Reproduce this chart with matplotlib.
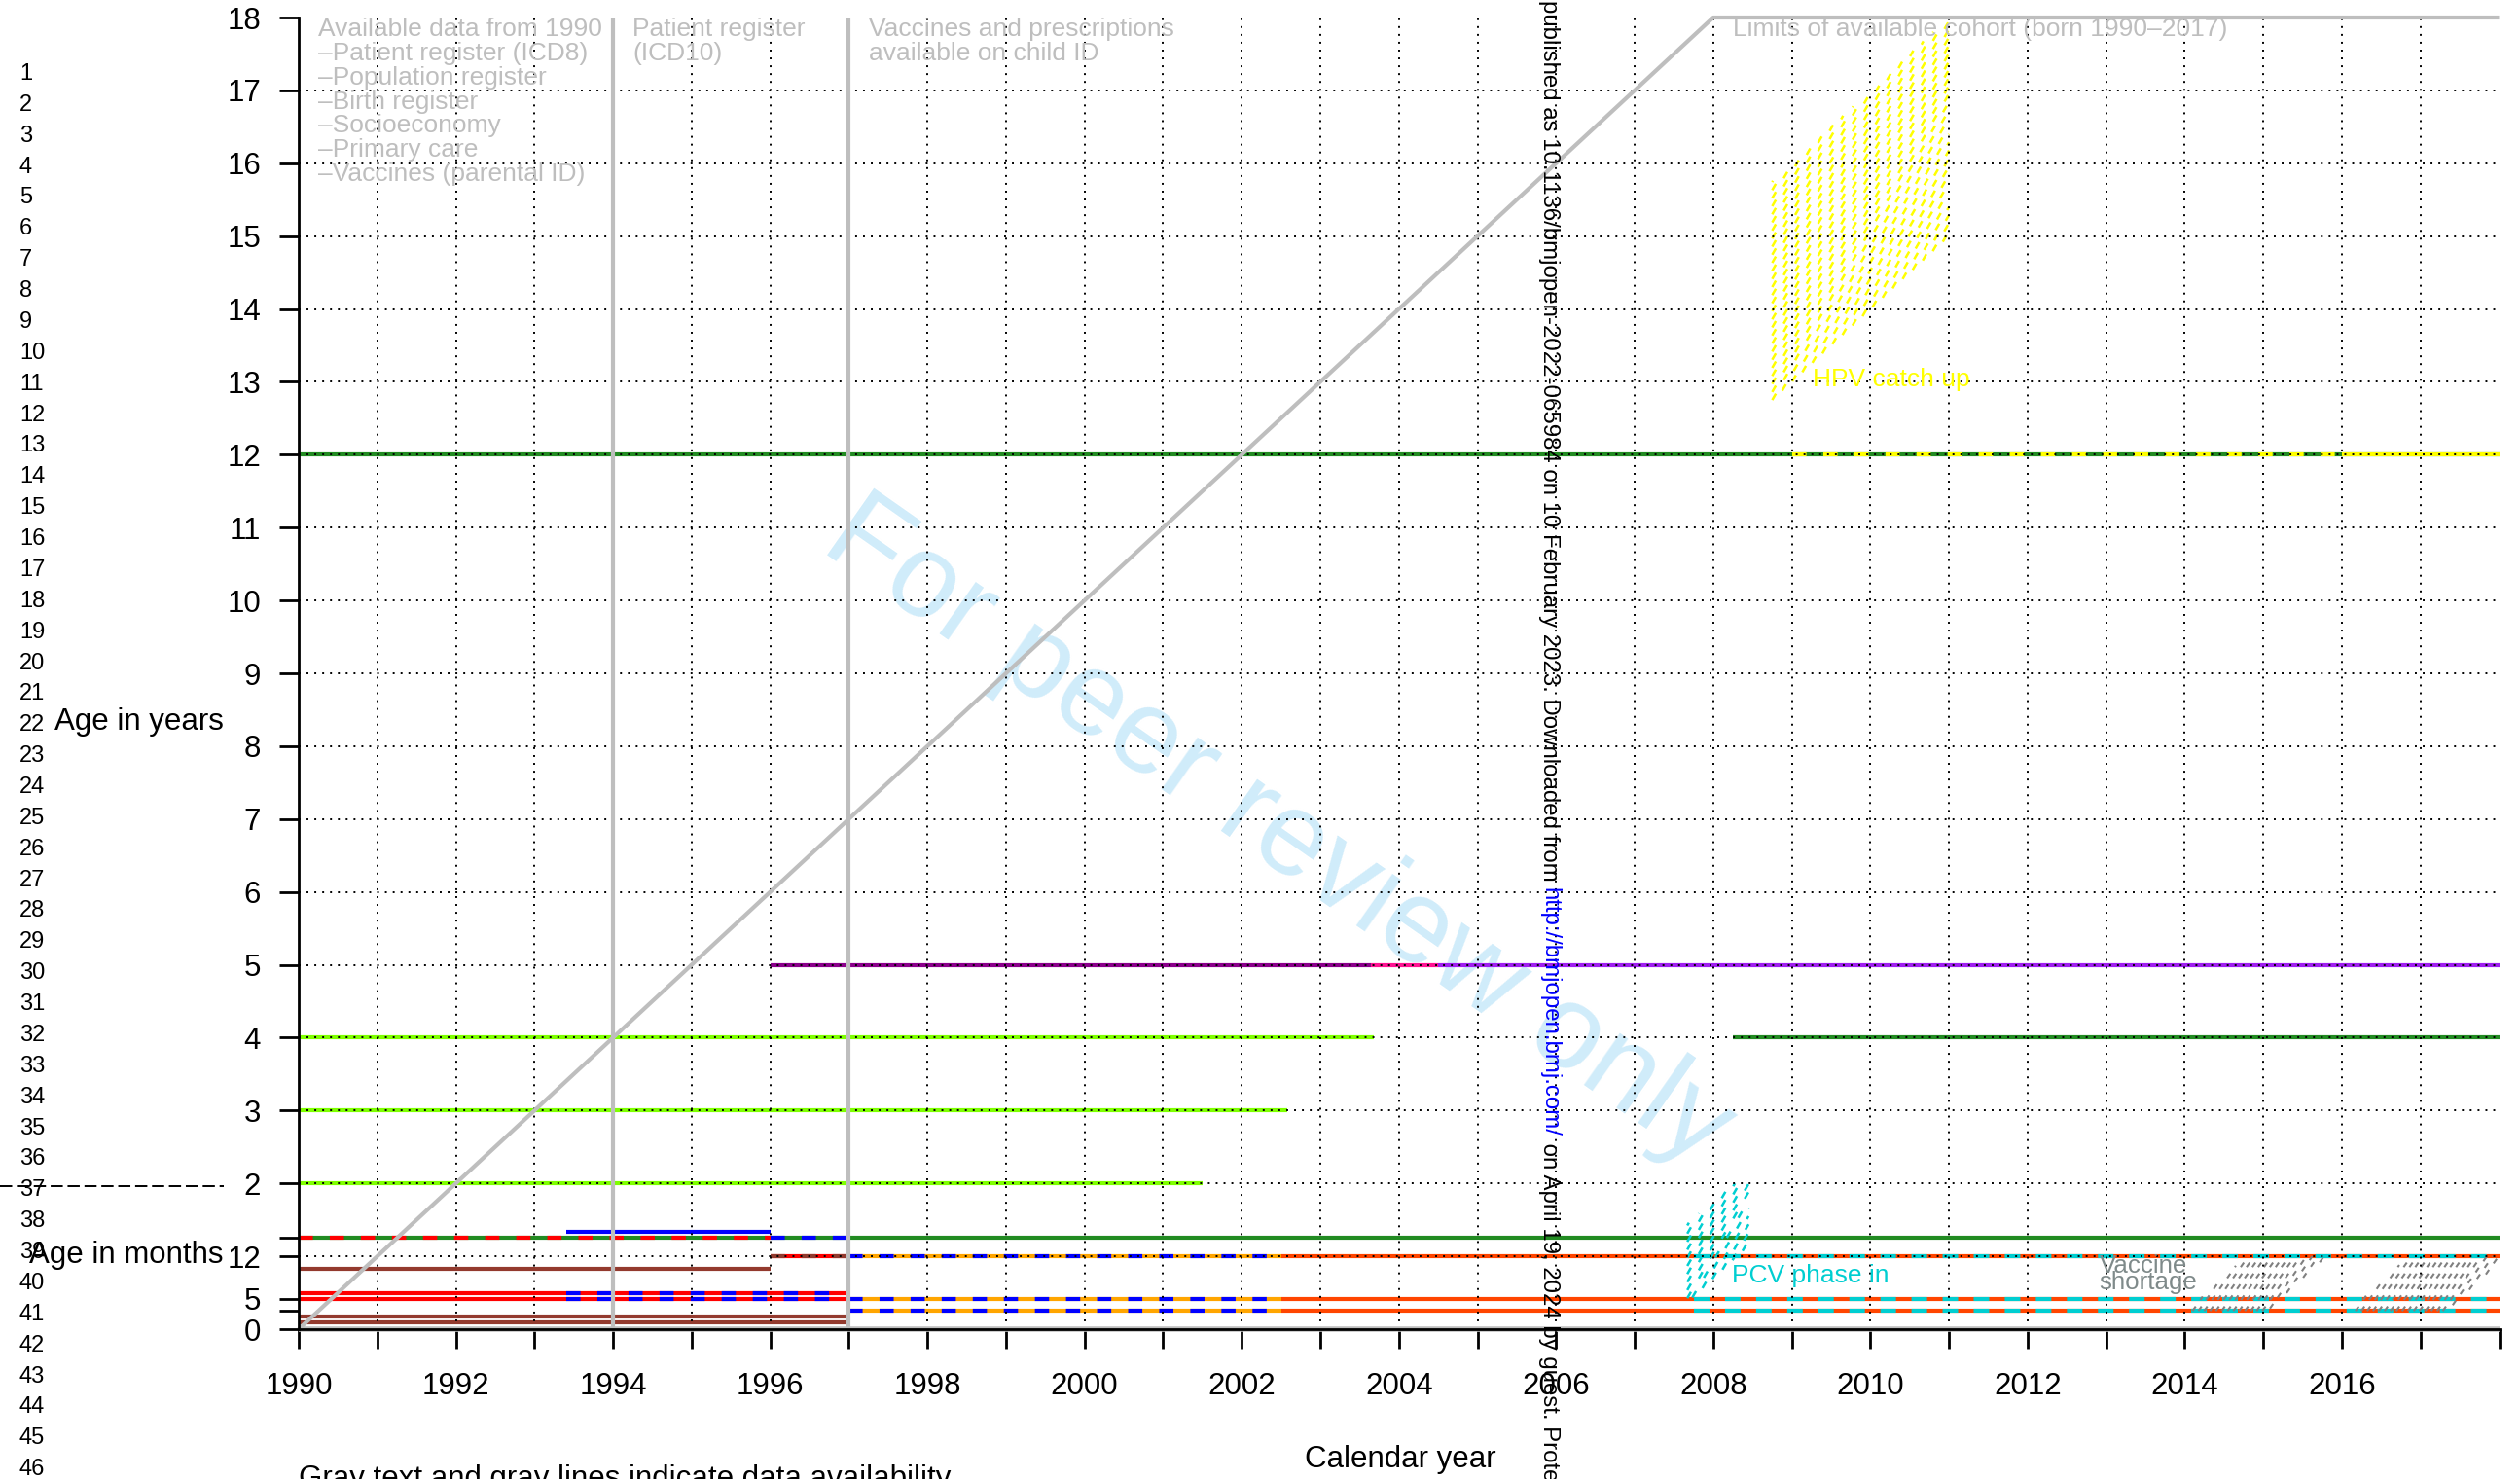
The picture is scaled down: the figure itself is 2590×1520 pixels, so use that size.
import numpy as np
import matplotlib
matplotlib.use('Agg')
import matplotlib.pyplot as plt
from matplotlib.lines import Line2D

plt.rcParams['font.family'] = ['Liberation Sans', 'DejaVu Sans']
plt.rcParams['lines.scale_dashes'] = False

W, H = 2590, 1520

# ---------------------------------------------------------------- data
tick_years = list(range(1990, 2019))
label_years = list(range(1990, 2017, 2))
grid_years = list(range(1991, 2018))
grid_ages = list(range(1, 18))
month_ticks = [0, 3, 5, 12, 15]
month_labels = ['0', '', '5', '12', '']
year_ticks = list(range(2, 19))
line_numbers = list(range(1, 47))

# solid schedule bars: age in months, first and last calendar year
brown_months = [1.15, 2.07, 10]
brown_start = [1990, 1990, 1990]
brown_end = [1997, 1997, 1996]

red_months = [5, 6, 12]
red_start = [1990, 1990, 1996]
red_end = [1997, 1997, 1997]

blue_months = [16]
blue_start = [1993.4]
blue_end = [1996]

green_months = [15, 48, 144]
green_start = [1990, 2008.25, 1990]
green_end = [2018, 2018, 2018]

chartreuse_months = [24, 36, 48]
chartreuse_start = [1990, 1990, 1990]
chartreuse_end = [2001.5, 2002.58, 2003.68]

orange_months = [3, 5, 12]
orange_start = [1997, 1997, 1997]
orange_end = [2002.5, 2002.5, 2002.5]

orangered_months = [3, 5, 12]
orangered_start = [2002.5, 2002.5, 2002.5]
orangered_end = [2018, 2018, 2018]

magenta_months = [60, 60, 60]
magenta_start = [1996, 2003.65, 2004.5]
magenta_end = [2003.65, 2004.5, 2018]

yellow_months = [144]
yellow_start = [2016]
yellow_end = [2018]

# dashed bars drawn on top of the solid ones
red_dash_months = [15]
red_dash_start = [1990]
red_dash_end = [1996]

blue_dash_months = [15, 5, 6, 3, 5, 12]
blue_dash_start = [1996, 1993.4, 1993.4, 1997, 1997, 1997]
blue_dash_end = [1997, 1997, 1997, 2002.5, 2002.5, 2002.5]

brown_dash_months = [12]
brown_dash_start = [1996]
brown_dash_end = [1997]

cyan_dash_months = [3, 5, 12]
cyan_dash_start = [2007.75, 2007.75, 2007.75]
cyan_dash_end = [2018, 2018, 2018]

yellow_dash_months = [144]
yellow_dash_start = [2009]
yellow_dash_end = [2016]

# data availability (gray)
register_years = [1994, 1997]
cohort_years = [1990, 2008, 2018]
cohort_ages = [0, 18, 18]

# shaded periods (calendar year, age in years)
hpv_years = [2008.75, 2011.0, 2011.0, 2008.75]
hpv_ages = [12.75, 15.0, 18.0, 15.75]

pcv_years = [2007.67, 2008.45, 2008.45, 2008.23, 2007.67]
pcv_ages = [0.37, 1.15, 2.0, 2.0, 1.44]

shortage1_years = [2014.03, 2015.05, 2015.8, 2014.78]
shortage1_ages = [0.25, 0.25, 1.0, 1.0]
shortage2_years = [2016.1, 2017.33, 2018.0, 2018.0, 2016.85]
shortage2_ages = [0.25, 0.25, 0.92, 1.0, 1.0]

avail_lines = ['Available data from 1990', '\u2013Patient register (ICD8)',
               '\u2013Population register', '\u2013Birth register',
               '\u2013Socioeconomy', '\u2013Primary care',
               '\u2013Vaccines (parental ID)']
icd10_lines = ['Patient register', '(ICD10)']
child_lines = ['Vaccines and prescriptions', 'available on child ID']
cohort_lines = ['Limits of available cohort (born 1990\u20132017)']

notice_parts = ['published as 10.1136/bmjopen-2022-065984 on 10 February 2023. Downloaded from ',
                'http://bmjopen.bmj.com/',
                ' on April 19, 2024 by guest. Protected by copyright.']
notice_colors = ['black', '#0000FF', 'black']

# ---------------------------------------------------------------- figure
fig = plt.figure(figsize=(W / 100, H / 100), dpi=100)
ax = fig.add_axes([307 / W, 1 - 1366 / H, 2261.5 / W, 1348 / H])
ax.set_xlim(1990, 2018)
ax.set_ylim(0, 18)
ax.set_facecolor('none')

LW = 3.0
DASH = (0, (10.5, 12.5))
GRAY = '#BEBEBE'


def bars(months, start, end, color, ls='solid', z=2.0):
    ages = np.asarray(months, dtype=float) / 12.0
    ax.hlines(ages, start, end, colors=color, linewidth=LW, linestyles=ls, zorder=z)


bars(brown_months, brown_start, brown_end, '#933A2E')
bars(red_months, red_start, red_end, '#FF0000')
bars(blue_months, blue_start, blue_end, '#0000FF')
bars(green_months, green_start, green_end, '#228B22')
bars(chartreuse_months, chartreuse_start, chartreuse_end, '#7FFF00')
bars(orange_months, orange_start, orange_end, '#FFA500')
bars(orangered_months, orangered_start, orangered_end, '#FF4500')
ax.hlines(np.asarray(magenta_months) / 12.0, magenta_start, magenta_end,
          colors=['#8B008B', '#FF1493', '#A020F0'], linewidth=LW, zorder=2)
bars(yellow_months, yellow_start, yellow_end, '#FFFF00')

bars(red_dash_months, red_dash_start, red_dash_end, '#FF0000', DASH, 2.1)
bars(blue_dash_months, blue_dash_start, blue_dash_end, '#0000FF', DASH, 2.1)
bars(brown_dash_months, brown_dash_start, brown_dash_end, '#933A2E', DASH, 2.1)
bars(cyan_dash_months, cyan_dash_start, cyan_dash_end, '#00CED1', (0, (11.5, 11.5)), 2.1)
bars(yellow_dash_months, yellow_dash_start, yellow_dash_end, '#FFFF00', DASH, 2.1)


def hatch(xs, ys, color, angle, spacing, dash, lw):
    # shading like R's polygon(density=, angle=): parallel dashed lines,
    # each one started at its lower crossing of the (convex) outline
    pts = ax.transData.transform(np.column_stack([xs, ys]))
    inv = ax.transData.inverted()
    a = np.radians(angle)
    d = np.array([np.cos(a), np.sin(a)])
    n = np.array([-np.sin(a), np.cos(a)])
    proj = pts @ n
    nv = len(pts)
    c = np.floor(proj.min() / spacing) * spacing + spacing / 2
    while c < proj.max():
        p0 = c * n
        ts = []
        for i in range(nv):
            A, B = pts[i], pts[(i + 1) % nv]
            e = B - A
            den = d[0] * e[1] - d[1] * e[0]
            if abs(den) < 1e-12:
                continue
            w = A - p0
            t = (w[0] * e[1] - w[1] * e[0]) / den
            s = (w[0] * d[1] - w[1] * d[0]) / den
            if -1e-9 <= s <= 1 + 1e-9:
                ts.append(t)
        if len(ts) >= 2 and max(ts) - min(ts) > 0.5:
            seg = inv.transform(np.array([p0 + min(ts) * d, p0 + max(ts) * d]))
            ax.plot(seg[:, 0], seg[:, 1], color=color, lw=lw, linestyle=(0, dash),
                    solid_capstyle='butt', dash_capstyle='butt', zorder=2.6, clip_on=False)
        c += spacing


hatch(hpv_years, hpv_ages, '#FFFF00', 60, 4.15, (5.4, 11.6), 1.8)
hatch(pcv_years, pcv_ages, '#00CED1', 60, 4.15, (5.4, 11.6), 1.8)
hatch(shortage1_years, shortage1_ages, '#808080', 55, 4.9, (4.1, 5.8), 1.5)
hatch(shortage2_years, shortage2_ages, '#808080', 55, 4.9, (4.1, 5.8), 1.5)

# dotted grid over the bars
GRID = (0, (1.4, 4.4))
ax.vlines(grid_years, 0, 18, colors='black', linewidth=1.4, linestyles=GRID, zorder=3)
ax.hlines(grid_ages, 1990, 2018, colors='black', linewidth=1.4, linestyles=GRID, zorder=3)

# gray availability lines
ax.vlines(register_years, 0, 18, colors=GRAY, linewidth=LW, zorder=3.5, clip_on=False)
ax.plot(cohort_years, cohort_ages, color=GRAY, lw=LW, zorder=3.5, clip_on=False,
        solid_capstyle='butt')
ax.hlines([0], 1990, 2018, colors=GRAY, linewidth=LW + 1, zorder=3.4, clip_on=False)

# axes
for side in ['top', 'right']:
    ax.spines[side].set_visible(False)
for side in ['left', 'bottom']:
    ax.spines[side].set_linewidth(2.0)
    ax.spines[side].set_zorder(4)
ax.set_xticks(tick_years)
ax.set_xticklabels([str(y) if y in label_years else '' for y in tick_years])
ax.set_yticks([m / 12.0 for m in month_ticks] + year_ticks)
ax.set_yticklabels(month_labels + [str(y) for y in year_ticks])
ax.tick_params(axis='both', direction='out', length=14.5, width=2.0, labelsize=22.5)
ax.tick_params(axis='x', pad=17)
ax.tick_params(axis='y', pad=13.5)

# gray notes
STEP = 17.9
for x0, lines in [(1990.25, avail_lines), (1994.25, icd10_lines),
                  (1997.25, child_lines), (2008.25, cohort_lines)]:
    for i, txt in enumerate(lines):
        ax.annotate(txt, xy=(x0, 18), xytext=(0, -i * STEP), textcoords='offset points',
                    ha='left', va='top', fontsize=19, color=GRAY, zorder=5,
                    annotation_clip=False)

ax.text(2009.26, 13.03, 'HPV catch up', color='#FFFF00', fontsize=19, va='center', zorder=5)
ax.text(2008.24, 0.73, 'PCV phase in', color='#00CED1', fontsize=19, va='center', zorder=5)
ax.text(2012.91, 0.778, 'Vaccine', color='#7F8A8A', fontsize=18.6, va='baseline', zorder=5)
ax.text(2012.91, 0.547, 'shortage', color='#7F8A8A', fontsize=18.6, va='baseline', zorder=5)

# margin text
for i, n in enumerate(line_numbers):
    fig.text(20 / W, 1 - (76 + i * 31.87) / H, str(n), fontsize=17, ha='left', va='center')

fig.text(230 / W, 1 - 742 / H, 'Age in years', fontsize=22.5, ha='right', va='center')
fig.text(230 / W, 1 - 1290 / H, 'Age in months', fontsize=22.5, ha='right', va='center')
fig.add_artist(Line2D([0, 230 / W], [1 - 1219 / H] * 2, transform=fig.transFigure,
                      color='black', lw=1.4, linestyle=(0, (9, 3.5))))
fig.text(1439 / W, 1 - 1500 / H, 'Calendar year', fontsize=22.5, ha='center', va='center')
fig.text(307 / W, 1 - 1505 / H, 'Gray text and gray lines indicate data availability',
         fontsize=22.5, ha='left', va='top')

# watermark behind the plot
fig.text(1313 / W, 1 - 856 / H, 'For peer review only', rotation=-35, fontsize=88,
         color='#D0ECFA', ha='center', va='center', rotation_mode='anchor', zorder=-1)

# vertical download notice
renderer = fig.canvas.get_renderer()
ytop = H
for txt, col in zip(notice_parts, notice_colors):
    t = fig.text(1592 / W, ytop / H, txt, rotation=-90, fontsize=17.3, color=col,
                 ha='center', va='top')
    ytop = t.get_window_extent(renderer).y0

fig.savefig('out.png', dpi=100)
